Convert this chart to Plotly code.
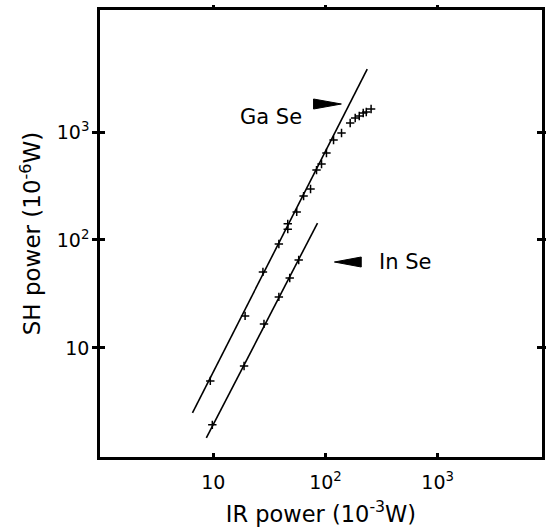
import plotly.graph_objects as go

# GaSe measured points (IR power 1e-3 W, SH power 1e-6 W)
gase_ir = [9.4, 19.2, 27.7, 38.4, 46.1, 46.1, 55.4, 63.8, 73.6, 83.2, 92.2, 102, 118, 139, 166, 184, 200, 217, 231, 255]
gase_sh = [4.95, 19.8, 50.6, 91.8, 126, 141, 182, 255, 297, 444, 506, 640, 844, 979, 1211, 1348, 1407, 1500, 1531, 1633]
# InSe measured points
inse_ir = [9.8, 18.8, 28.3, 38.4, 48, 57.7]
inse_sh = [1.94, 6.8, 16.7, 29.7, 44.5, 65.3]
# fitted (slope-2) lines, end points
gase_fit_ir = [6.52, 235.5]
gase_fit_sh = [2.50, 3830]
inse_fit_ir = [8.67, 84.9]
inse_fit_sh = [1.47, 143.6]

tick_vals = [10, 100, 1000]
tick_text = ["10", "10<sup>2</sup>", "10<sup>3</sup>"]

FONT = "DejaVu Sans"
fig = go.Figure()
for fx, fy in [(gase_fit_ir, gase_fit_sh), (inse_fit_ir, inse_fit_sh)]:
    fig.add_trace(go.Scatter(x=fx, y=fy, mode="lines", line=dict(color="black", width=1.6),
                             showlegend=False, hoverinfo="skip"))
for px, py in [(gase_ir, gase_sh), (inse_ir, inse_sh)]:
    fig.add_trace(go.Scatter(x=px, y=py, mode="markers",
                             marker=dict(symbol="cross-thin", size=6, line=dict(color="black", width=1.5)),
                             showlegend=False))

# invisible trace on top axis for crossing ticks
fig.add_trace(go.Scatter(x=[10], y=[10], xaxis="x2", mode="markers", marker=dict(opacity=0),
                         showlegend=False, hoverinfo="skip"))

axis_common = dict(showgrid=False, zeroline=False, showline=True, linecolor="black", linewidth=2.5,
                   tickcolor="black", tickwidth=2.5)
fig.update_layout(
    width=546, height=527,
    margin=dict(l=100, r=1, t=10, b=70),
    paper_bgcolor="white", plot_bgcolor="white",
    font=dict(family=FONT, color="black", size=19),
    xaxis=dict(type="log", range=[-0.01, 3.93], tickvals=tick_vals, ticktext=tick_text,
               ticks="inside", ticklen=4, mirror=True, ticklabelstandoff=6,
               title=dict(text="IR power (10<sup>-3</sup>W)", font=dict(size=22.5), standoff=15),
               **axis_common),
    xaxis2=dict(type="log", range=[-0.01, 3.93], overlaying="x", side="top", tickvals=tick_vals,
                showticklabels=False, ticks="outside", ticklen=4, showgrid=False, zeroline=False,
                showline=False, tickcolor="black", tickwidth=2.5),
    yaxis=dict(type="log", range=[-0.01, 4.13], tickvals=tick_vals, ticktext=tick_text,
               ticks="inside", ticklen=5, mirror="allticks", ticklabelstandoff=4,
               title=dict(text="SH power (10<sup>-6</sup>W)", font=dict(size=23), standoff=10),
               **axis_common),
)

# labels with pointer triangles (paper coordinates)
def px2paper(x, y):
    return (x - 100) / 445, (457 - y) / 447

gx, gy = px2paper(272, 103)
fig.add_annotation(x=gx, y=gy, xref="paper", yref="paper", text="Ga Se", showarrow=False,
                   font=dict(size=21, family=FONT))
ix, iy = px2paper(379, 262)
fig.add_annotation(x=ix, y=iy, xref="paper", yref="paper", text="In Se", showarrow=False,
                   xanchor="left", font=dict(size=21, family=FONT))

def tri(pts):
    p = [px2paper(*q) for q in pts]
    return "M {} {} L {} {} L {} {} Z".format(p[0][0], p[0][1], p[1][0], p[1][1], p[2][0], p[2][1])

fig.add_shape(type="path", xref="paper", yref="paper", path=tri([(315, 99), (315, 109), (343, 104)]),
              fillcolor="black", line=dict(color="black", width=1))
fig.add_shape(type="path", xref="paper", yref="paper", path=tri([(363, 257), (363, 267), (336, 262)]),
              fillcolor="black", line=dict(color="black", width=1))

fig.write_html("out.html", config={"displayModeBar": False},
               post_script="document.body.style.margin='0';")
